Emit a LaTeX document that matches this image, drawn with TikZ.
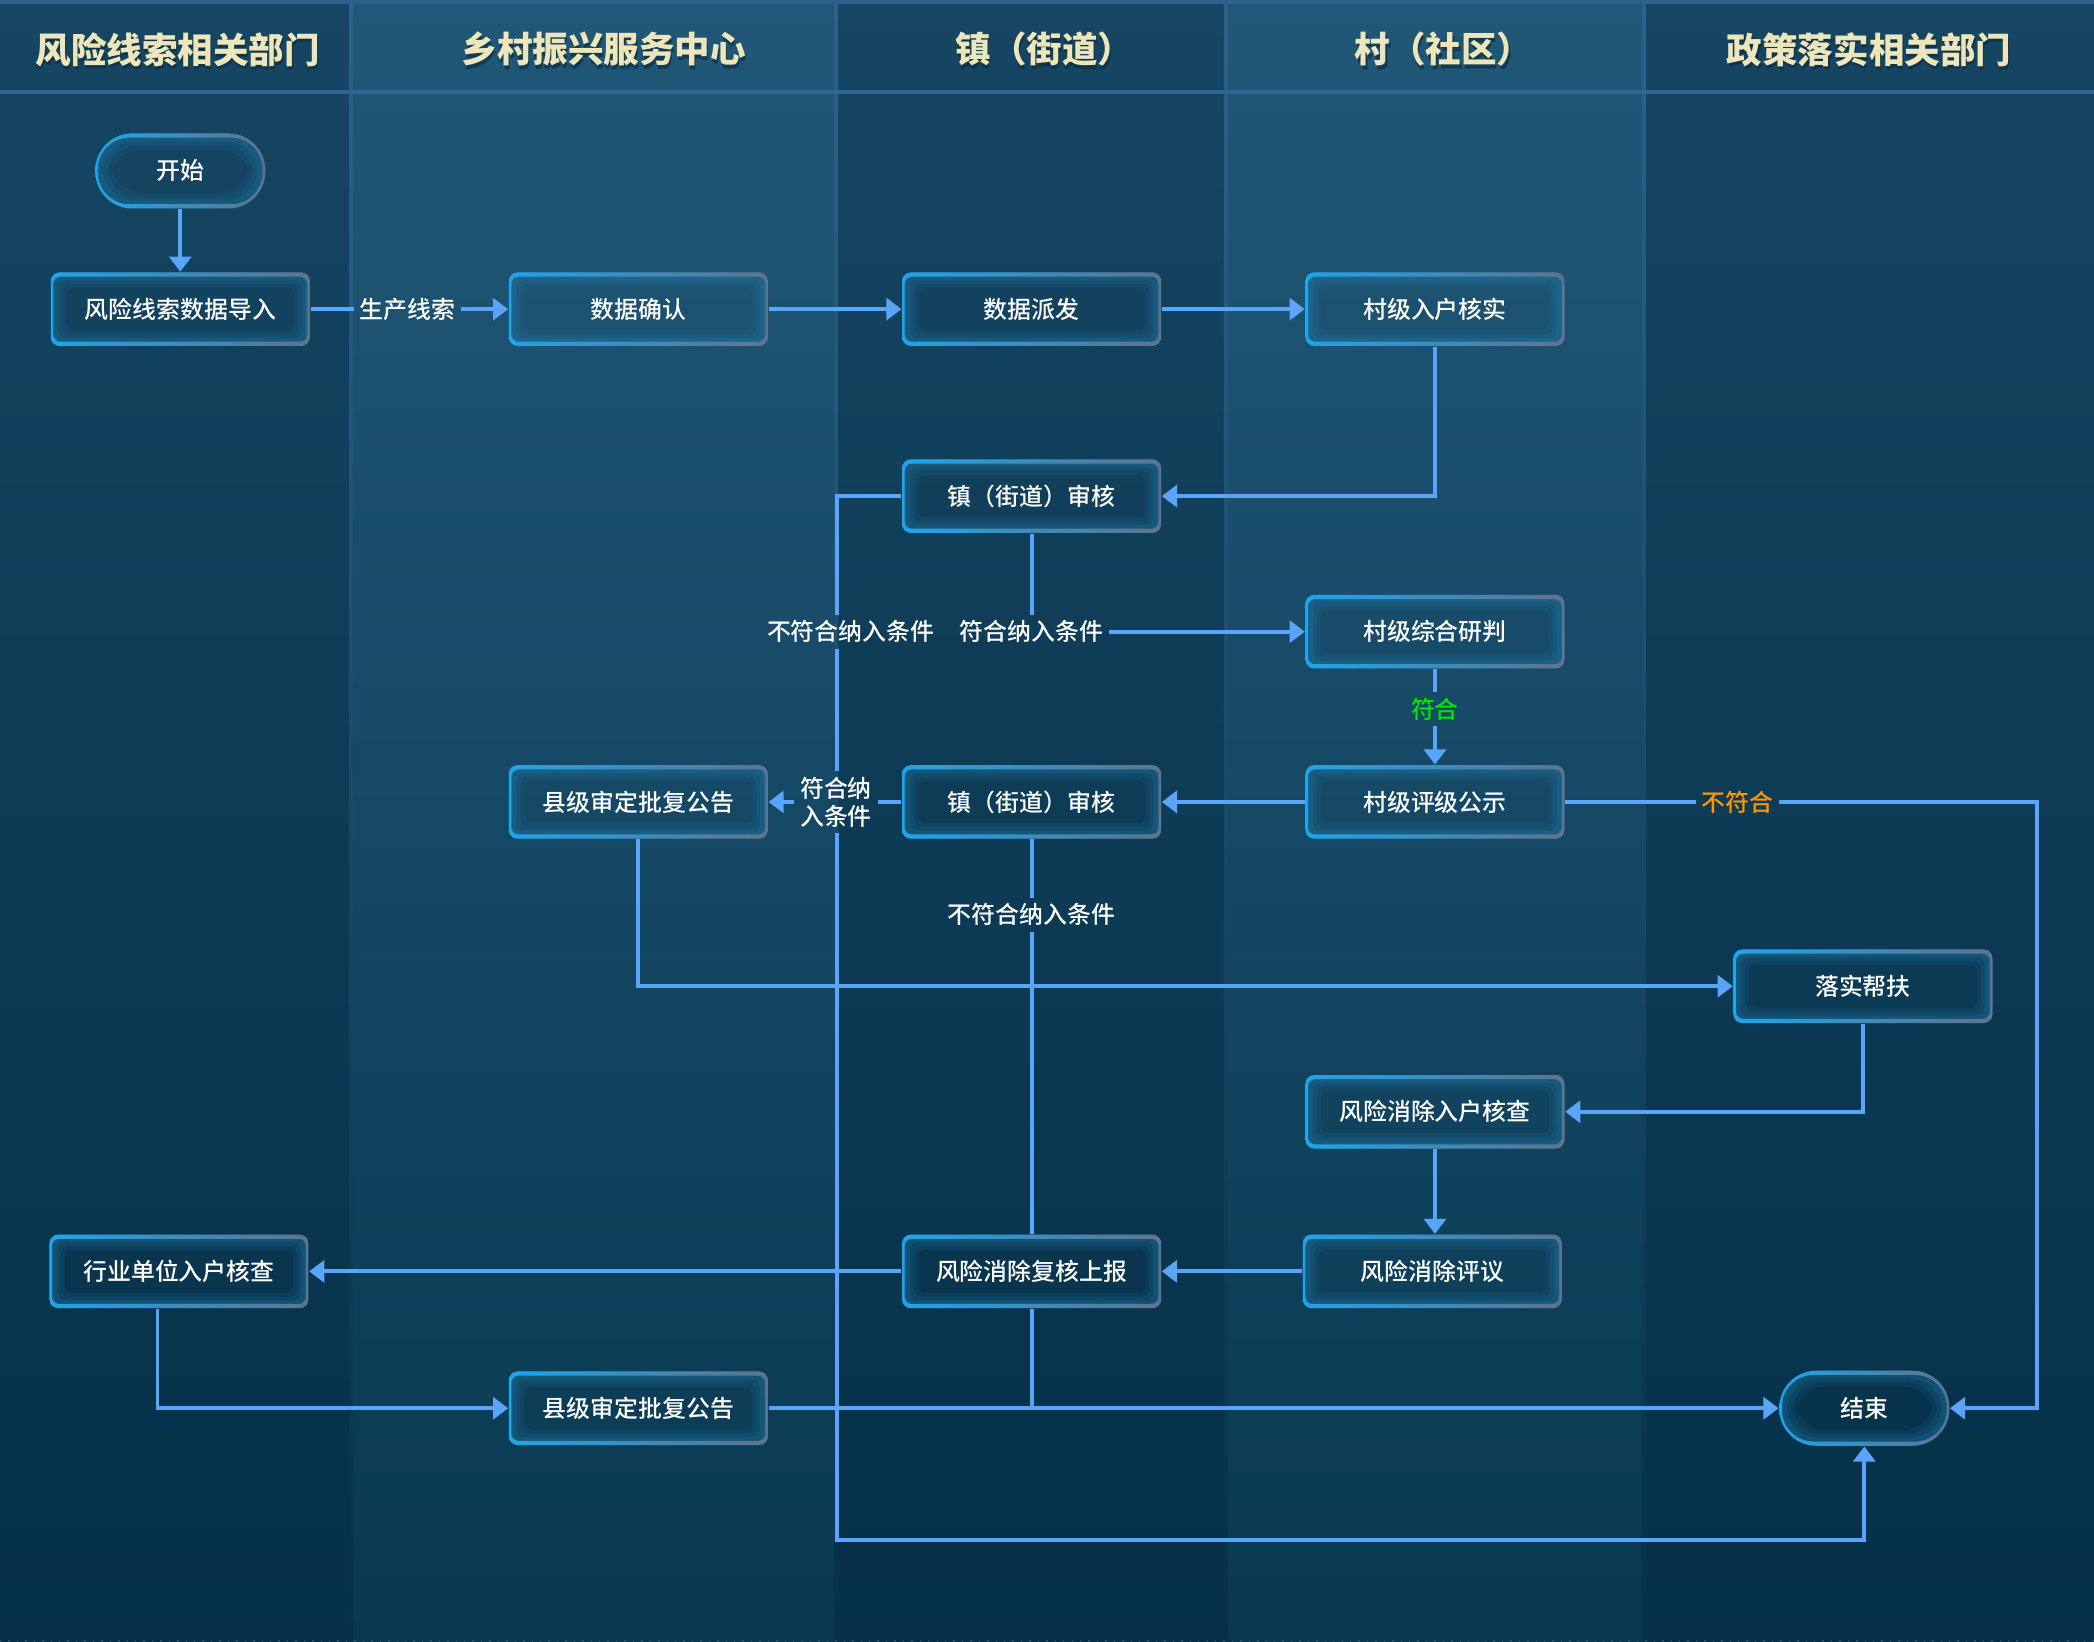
\documentclass[tikz,border=0pt]{standalone}
\usepackage{fontspec}
\setmainfont{Noto Sans CJK SC}
\newfontfamily\medfont{Noto Sans CJK SC Medium}
\usetikzlibrary{arrows.meta}

\definecolor{laneA}{RGB}{22,70,99}
\definecolor{laneAbot}{RGB}{5,48,72}
\definecolor{laneB}{RGB}{33,87,119}
\definecolor{laneBbot}{RGB}{9,57,82}
\definecolor{divline}{RGB}{44,98,138}
\definecolor{headline}{RGB}{45,102,145}
\definecolor{headtext}{RGB}{236,230,186}
\definecolor{headshadow}{RGB}{10,40,60}
\definecolor{flowblue}{RGB}{90,165,250}
\definecolor{glowteal}{RGB}{32,128,178}
\definecolor{edgecyan}{RGB}{30,165,235}
\definecolor{edgewhite}{RGB}{230,240,248}
\definecolor{edgegray}{RGB}{95,115,140}
\definecolor{okgreen}{RGB}{0,230,0}
\definecolor{badorange}{RGB}{255,150,0}

\newcommand{\boxfont}{\fontsize{6.8}{8}\selectfont\medfont}
\newcommand{\headfont}{\fontsize{10.1}{12}\selectfont\bfseries}

\pgfdeclarelayer{lanes}
\pgfdeclarelayer{edges}
\pgfsetlayers{lanes,edges,main}

\tikzset{
  glow/.style={path picture={
      \foreach \d/\o in {0pt/0.55, 1.1pt/0.38, 2.2pt/0.24, 3.3pt/0.12}
        \fill[glowteal, opacity=\o, even odd rule, rounded corners=#1]
          ([shift={(\d,\d)}]path picture bounding box.south west) rectangle
          ([shift={(-\d,-\d)}]path picture bounding box.north east)
          ([shift={(\d+1.1pt,\d+1.1pt)}]path picture bounding box.south west) rectangle
          ([shift={(-\d-1.1pt,-\d-1.1pt)}]path picture bounding box.north east);
      \shade[left color=edgecyan, middle color=edgewhite, right color=edgegray, even odd rule,
          rounded corners=#1]
        (path picture bounding box.south west) rectangle (path picture bounding box.north east)
        ([shift={(0.7pt,1.2pt)}]path picture bounding box.south west) rectangle
        ([shift={(-0.7pt,-1.2pt)}]path picture bounding box.north east);
    }},
  box/.style={rectangle, rounded corners=2.5pt, minimum width=2.59cm, minimum height=0.735cm,
    text=white, font=\boxfont, glow=2pt},
  term/.style={rectangle, rounded corners=0.37cm, minimum width=1.70cm, minimum height=0.75cm,
    text=white, font=\boxfont, glow=9pt},
  conn/.style={draw=flowblue, line width=1.1pt},
  flow/.style={conn, -{Triangle[length=4.3pt,width=6.2pt]}},
  lbl/.style={text=white, font=\boxfont, inner sep=1.5pt},
  lanehead/.style={text=headtext, font=\headfont}
}

\begin{document}
\begin{tikzpicture}[x=0.013355cm, y=-0.013355cm]

\useasboundingbox (0,0) rectangle (1568,1229.5);

% lanes
\begin{pgfonlayer}{lanes}
\foreach \xa/\xb/\ct/\cb in {0/263/laneA/laneAbot, 263/626/laneB/laneBbot, 626/918/laneA/laneAbot,
    918/1231/laneB/laneBbot, 1231/1568/laneA/laneAbot}
  \shade[top color=\ct, bottom color=\cb] (\xa,0) rectangle (\xb,1229.5);
\foreach \x in {263,626,918,1231}
  \shade[top color=divline, bottom color=laneAbot] (\x-1.5,0) rectangle (\x+1.5,1229.5);
\fill[divline] (0,0) rectangle (1568,3);
\fill[headline] (0,67.5) rectangle (1568,70.5);
\draw[divline, dotted, line width=0.4pt] (0,1228.5) -- (1568,1228.5);
\end{pgfonlayer}

\foreach \x/\t [count=\i] in {133/风险线索相关部门, 452/乡村振兴服务中心, 782/镇（街道）,
    1081/村（社区）, 1399.5/政策落实相关部门}{
  \node[lanehead, text=headshadow, opacity=0.6] (shadow\i) at (\x+1,39.5) {\t};
  \node[lanehead] (head\i) at (\x,37) {\t};
}

% steps
\node[term] (start) at (135,128) {开始};
\node[box] (import) at (135,231.5) {风险线索数据导入};
\node[box] (confirm) at (478,231.5) {数据确认};
\node[box] (dispatch) at (772.5,231.5) {数据派发};
\node[box] (vcheck) at (1074.5,231.5) {村级入户核实};
\node[box] (taudit1) at (772.5,371.5) {镇（街道）审核};
\node[box] (vjudge) at (1074.5,473) {村级综合研判};
\node[box] (vrank) at (1074.5,600.5) {村级评级公示};
\node[box] (taudit2) at (772.5,600.5) {镇（街道）审核};
\node[box] (cnty1) at (478,600.5) {县级审定批复公告};
\node[box] (aid) at (1395,738.5) {落实帮扶};
\node[box] (rcheck) at (1074.5,832.5) {风险消除入户核查};
\node[box] (reval) at (1072.5,952) {风险消除评议};
\node[box] (rreport) at (772.5,952) {风险消除复核上报};
\node[box] (icheck) at (134,952) {行业单位入户核查};
\node[box] (cnty2) at (478,1054.5) {县级审定批复公告};
\node[term] (stop) at (1396,1054.5) {结束};

\coordinate (zcol) at (627,1153);
\coordinate (rcol) at (1525,1054.5);

% arrows
\begin{pgfonlayer}{edges}
\node[lbl] (clue) at (305,231.5) {生产线索};
\node[lbl] (fit1) at (772.5,473) {符合纳入条件};
\node[lbl] (nofit1) at (637,473) {不符合纳入条件};
\node[lbl, text=okgreen] (ok1) at (1074.5,531) {符合};
\node[lbl, align=center] (fit2) at (626,600.5) {符合纳\\入条件};
\node[lbl, text=badorange] (bad1) at (1301,600.5) {不符合};
\node[lbl] (nofit2) at (772.5,685) {不符合纳入条件};

\draw[flow] (start) -- (import);
\draw[conn] (import) -- (clue);
\draw[flow] (clue) -- (confirm);
\draw[flow] (confirm) -- (dispatch);
\draw[flow] (dispatch) -- (vcheck);
\draw[flow] (vcheck) |- (taudit1);
\draw[conn] (taudit1) -- (fit1);
\draw[flow] (fit1) -- (vjudge);
\draw[conn] (taudit1.west) -| (zcol |- nofit1.north);
\draw[conn] (zcol |- nofit1.south) -- (zcol |- fit2.north);
\draw[flow] (zcol |- fit2.south) -- (zcol) -| (stop.south);
\draw[conn] (vjudge) -- (ok1);
\draw[flow] (ok1) -- (vrank);
\draw[flow] (vrank) -- (taudit2);
\draw[conn] (taudit2) -- (fit2);
\draw[flow] (fit2) -- (cnty1);
\draw[conn] (vrank) -- (bad1);
\draw[flow] (bad1) -| (rcol) -- (stop);
\draw[conn] (taudit2) -- (nofit2);
\draw[conn] (nofit2) -- (rreport);
\draw[conn] (rreport) -- (rreport |- cnty2.east);
\draw[flow] (cnty1) |- (aid);
\draw[flow] (aid) |- (rcheck);
\draw[flow] (rcheck) -- (rcheck |- reval.north);
\draw[flow] (reval) -- (rreport);
\draw[flow] (rreport) -- (icheck);
\draw[flow] ([xshift=-0.214cm]icheck.south) |- (cnty2);
\draw[flow] (cnty2) -- (stop);
\end{pgfonlayer}

\end{tikzpicture}
\end{document}
